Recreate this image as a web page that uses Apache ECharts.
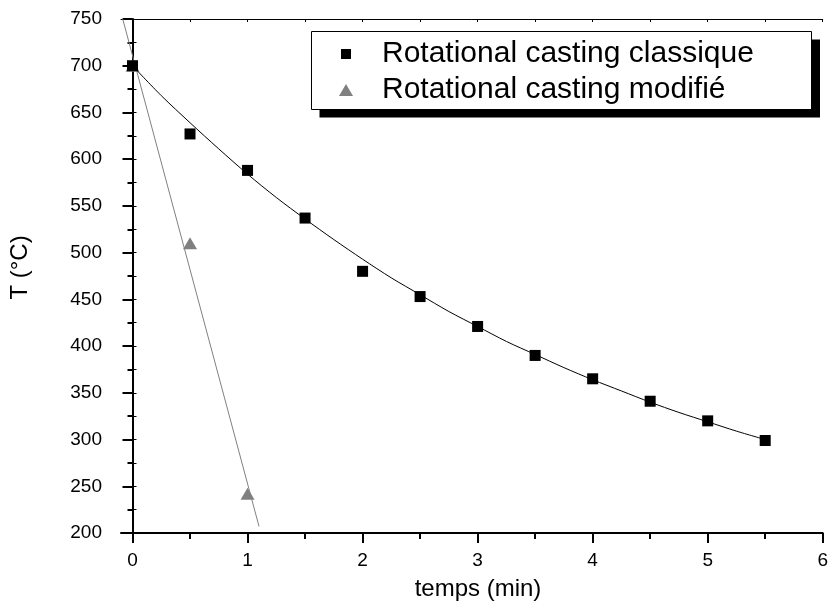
<!DOCTYPE html>
<html>
<head>
<meta charset="utf-8">
<script src="https://cdn.jsdelivr.net/npm/echarts@6/dist/echarts.min.js"></script>
<style>
html,body{margin:0;padding:0;background:#fff;}
#chart{width:831px;height:604px;}
</style>
</head>
<body>
<div id="chart"></div>
<script>
// ---- data ----
const classiqueX = [0, 0.5, 1, 1.5, 2, 2.5, 3, 3.5, 4, 4.5, 5, 5.5];
const classiqueY = [700, 627, 588, 537, 480, 453, 421, 390, 365, 341, 320, 299];
const modifieX = [0, 0.5, 1];
const modifieY = [700, 510, 242];
// fitted curve
const classiqueFitX = [0, 0.25, 0.5, 0.75, 1, 1.25, 1.5, 1.75, 2, 2.25, 2.5, 2.75, 3, 3.25, 3.5, 3.75, 4, 4.25, 4.5, 4.75, 5, 5.25, 5.5];
const classiqueFitY = [700, 668, 639, 611, 584, 559, 536, 514, 493, 473, 455, 437, 421, 405, 391, 377, 364, 352, 340, 329, 319, 309, 300];
// straight fit line of the second series, traced endpoints
const modifieFitX = [-0.085, 1.1];
const modifieFitY = [750, 207];
const xMajorTicks = [0, 1, 2, 3, 4, 5, 6];
const xMinorTicks = [0.5, 1.5, 2.5, 3.5, 4.5, 5.5];
const xAllTicks = [0, 0.5, 1, 1.5, 2, 2.5, 3, 3.5, 4, 4.5, 5, 5.5, 6];
const seriesNames = ['Rotational casting classique', 'Rotational casting modifié'];
const xTitle = 'temps (min)';
const yTitle = 'T (°C)';

const zip = (xs, ys) => xs.map((x, i) => [x, ys[i]]);
const FONT = 'Liberation Sans, Arial, sans-serif';

const chart = echarts.init(document.getElementById('chart'), null, {renderer: 'canvas'});
const option = {
  animation: false,
  backgroundColor: '#ffffff',
  grid: {left: 121, right: 8, top: 19, bottom: 71, containLabel: false},
  xAxis: [
    {
      type: 'value', min: -0.1, max: 6, position: 'bottom', gridIndex: 0,
      axisLine: {show: true, lineStyle: {color: '#000', width: 2}},
      axisTick: {show: true, inside: false, length: 10, customValues: xMajorTicks, lineStyle: {color: '#000', width: 2}},
      axisLabel: {show: true, customValues: xMajorTicks, margin: 18, color: '#000', fontSize: 19, fontFamily: FONT},
      splitLine: {show: false}
    },
    {
      type: 'value', min: -0.1, max: 6, position: 'bottom', gridIndex: 0,
      axisLine: {show: false},
      axisTick: {show: true, inside: false, length: 6, customValues: xMinorTicks, lineStyle: {color: '#000', width: 2}},
      axisLabel: {show: false},
      splitLine: {show: false}
    },
    {
      type: 'value', min: -0.1, max: 6, position: 'top', gridIndex: 0,
      axisLine: {show: true, lineStyle: {color: '#000', width: 1}},
      axisTick: {show: true, inside: true, length: 3, customValues: xAllTicks, lineStyle: {color: '#000', width: 1}},
      axisLabel: {show: false},
      splitLine: {show: false}
    }
  ],
  yAxis: [
    {
      type: 'value', min: 200, max: 750, interval: 50, position: 'left',
      axisLine: {show: true, lineStyle: {color: '#000', width: 2}},
      axisTick: {show: true, inside: false, length: 10, lineStyle: {color: '#000', width: 2}},
      minorTick: {show: true, splitNumber: 2, length: 5, lineStyle: {color: '#000', width: 2}},
      axisLabel: {show: true, margin: 19, color: '#000', fontSize: 19, fontFamily: FONT},
      splitLine: {show: false}
    },
    {
      type: 'value', min: 200, max: 750, interval: 50, position: 'right',
      axisLine: {show: true, lineStyle: {color: '#000', width: 1}},
      axisTick: {show: true, inside: false, length: 4, lineStyle: {color: '#000', width: 1}},
      minorTick: {show: true, splitNumber: 2, length: 4, lineStyle: {color: '#000', width: 1}},
      axisLabel: {show: false},
      splitLine: {show: false}
    }
  ],
  legend: [
    {
      z: 100,
      data: [{name: seriesNames[0], icon: 'rect'}],
      selectedMode: false, orient: 'vertical', left: 341, top: 39, padding: 0,
      itemWidth: 10, itemHeight: 10,
      itemStyle: {opacity: 1},
      textStyle: {fontSize: 30, fontFamily: FONT, color: '#000', padding: [0, 0, 0, 26]}
    },
    {
      z: 100,
      data: [{name: seriesNames[1], icon: 'triangle'}],
      selectedMode: false, orient: 'vertical', left: 339, top: 75, padding: 0,
      itemWidth: 14, itemHeight: 12,
      itemStyle: {opacity: 1},
      textStyle: {fontSize: 30, fontFamily: FONT, color: '#000', padding: [0, 0, 0, 24]}
    }
  ],
  graphic: [
    {type: 'rect', z: 90, shape: {x: 319.5, y: 39.5, width: 500.5, height: 78}, style: {fill: '#000'}, silent: true},
    {type: 'rect', z: 91, shape: {x: 311.5, y: 31.5, width: 500, height: 78}, style: {fill: '#fff', stroke: '#000', lineWidth: 1}, silent: true},
    {type: 'text', z: 95, x: 478, y: 589, style: {text: xTitle, font: '24px ' + FONT, fill: '#000', textAlign: 'center', textVerticalAlign: 'middle'}, silent: true},
    {type: 'text', z: 95, x: 20.5, y: 267.5, rotation: Math.PI / 2, style: {text: yTitle, font: '24px ' + FONT, fill: '#000', textAlign: 'center', textVerticalAlign: 'middle'}, silent: true}
  ],
  series: [
    {
      name: 'fit modifie', type: 'line', xAxisIndex: 0, yAxisIndex: 0,
      data: zip(modifieFitX, modifieFitY), showSymbol: false, symbol: 'none',
      lineStyle: {color: '#808080', width: 1}, z: 2, silent: true
    },
    {
      name: seriesNames[1], type: 'scatter', xAxisIndex: 0, yAxisIndex: 0,
      data: zip(modifieX, modifieY), symbol: 'triangle', symbolSize: [14, 12],
      itemStyle: {color: '#808080', opacity: 1}, z: 3, silent: true
    },
    {
      name: 'fit classique', type: 'line', xAxisIndex: 0, yAxisIndex: 0,
      data: zip(classiqueFitX, classiqueFitY), showSymbol: false, symbol: 'none', smooth: 0.3,
      lineStyle: {color: '#000', width: 1}, z: 4, silent: true
    },
    {
      name: seriesNames[0], type: 'scatter', xAxisIndex: 0, yAxisIndex: 0,
      data: zip(classiqueX, classiqueY), symbol: 'rect', symbolSize: 11,
      itemStyle: {color: '#000', opacity: 1}, z: 5, silent: true
    }
  ]
};
chart.setOption(option);
</script>
</body>
</html>
